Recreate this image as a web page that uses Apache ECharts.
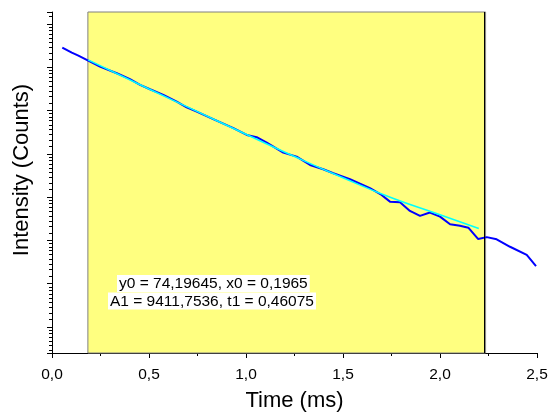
<!DOCTYPE html>
<html>
<head>
<meta charset="utf-8">
<script src="https://cdn.jsdelivr.net/npm/echarts@6/dist/echarts.min.js"></script>
<style>
html,body{margin:0;padding:0;background:#fff;}
#c{width:550px;height:412px;}
</style>
</head>
<body>
<div id="c"></div>
<script>
// Measured decay (time in ms, intensity in counts)
var timeData = [0.053,0.102,0.136,0.179,0.247,0.334,0.402,0.454,0.505,0.574,0.643,0.694,0.746,0.831,0.840,0.935,1.004,1.055,1.107,1.192,1.261,1.330,1.398,1.450,1.536,1.639,1.699,1.742,1.794,1.845,1.897,1.948,2.000,2.052,2.103,2.146,2.197,2.241,2.292,2.361,2.447,2.495];
var countData = [12740,11350,10590,9590,8200,7050,6140,5380,4870,4270,3660,3210,2900,2440,2370,1980,1695,1607,1419,1127,1026,847,767,700,609,495,424,363,358,293,261,282,257,215,208,199,153,160,152,128,106,82];
// Fit curve
var fitTime = [0.186,0.5,0.75,1.0,1.25,1.5,1.75,2.0,2.2];
var fitCount = [9600,4900,2900,1720,1030,630,397,268,195];
// Fit window
var fitRange = [0.185, 2.235];
var xTicks = {min:0, max:2.5, interval:0.5};
var yRange = {min:11, max:29000};
var annotation = ['y0 = 74,19645, x0 = 0,1965', 'A1 = 9411,7536, t1 = 0,46075'];

var FONT = 'Arial, "Liberation Sans", sans-serif';
function pairs(xs, ys){ return xs.map(function(x,i){ return [x, ys[i]]; }); }

var chart = echarts.init(document.getElementById('c'));
chart.setOption({
  animation:false,
  backgroundColor:'#fff',
  grid:{left:52, right:13, top:12, bottom:59, containLabel:false, outerBoundsMode:'none'},
  xAxis:{
    type:'value', min:xTicks.min, max:xTicks.max, interval:xTicks.interval,
    name:'Time (ms)', nameLocation:'middle', nameGap:37,
    nameTextStyle:{fontFamily:FONT, fontSize:22, color:'#000'},
    axisLine:{show:true, onZero:false, lineStyle:{color:'#000', width:1}},
    axisTick:{show:true, inside:false, length:5, lineStyle:{color:'#000'}},
    minorTick:{show:true, splitNumber:2, length:3, lineStyle:{color:'#000'}},
    axisLabel:{fontFamily:FONT, fontSize:15.5, color:'#000', margin:14,
      formatter:function(v){ return v.toFixed(1).replace('.', ','); }},
    splitLine:{show:false}
  },
  yAxis:{
    type:'log', logBase:Math.E, min:yRange.min, max:yRange.max,
    name:'Intensity (Counts)', nameLocation:'middle', nameGap:19,
    nameTextStyle:{fontFamily:FONT, fontSize:22, color:'#000', padding:[0,0,0,25]},
    axisLine:{show:true, onZero:false, lineStyle:{color:'#000', width:1}},
    axisTick:{show:true, inside:false, length:5, lineStyle:{color:'#000'}},
    minorTick:{show:true, splitNumber:9, length:3, lineStyle:{color:'#000'}},
    axisLabel:{show:false},
    splitLine:{show:false}
  },
  series:[
    {
      type:'line', name:'data', data:pairs(timeData, countData),
      showSymbol:false, symbol:'none', smooth:false,
      lineStyle:{color:'#0000ff', width:2}, z:3,
      markArea:{
        silent:true,
        itemStyle:{color:'#ffff80', borderColor:'#808080', borderWidth:1},
        data:[[{xAxis:fitRange[0]},{xAxis:fitRange[1]}]]
      }
    },
    {
      type:'line', name:'fit', data:pairs(fitTime, fitCount),
      showSymbol:false, symbol:'none', smooth:true,
      lineStyle:{color:'#00ffff', width:1.5}, z:4,
      markLine:{
        silent:true, symbol:'none', label:{show:false},
        lineStyle:{color:'#000', type:'solid', width:1},
        data:[{xAxis:fitRange[1]}]
      }
    }
  ],
  graphic:[
    {type:'text', left:117, top:275, z:10,
     style:{text:annotation[0], font:'15.5px ' + FONT, fill:'#000', backgroundColor:'#fff', padding:[1,2,0,2]}},
    {type:'text', left:108, top:292.5, z:10,
     style:{text:annotation[1], font:'15.5px ' + FONT, fill:'#000', backgroundColor:'#fff', padding:[1,2,0,2]}}
  ]
});
</script>
</body>
</html>
